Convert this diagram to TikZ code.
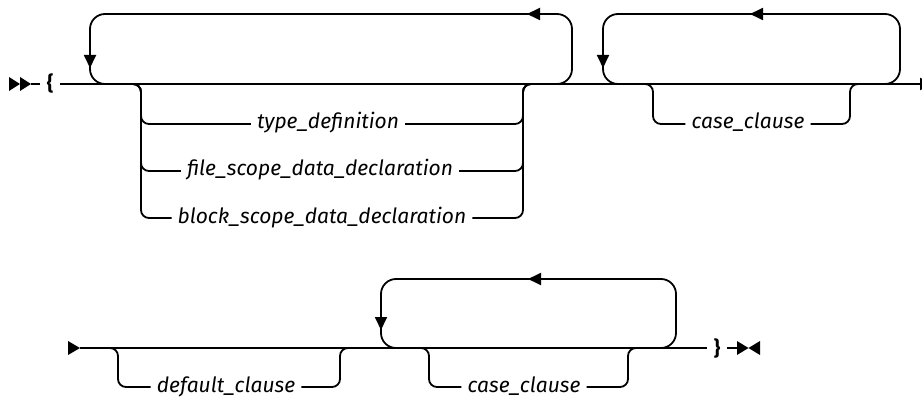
\documentclass[tikz,border=0pt]{standalone}
\usepackage{fontspec}
\setmainfont{Fira Sans}
\usetikzlibrary{positioning, arrows.meta, calc}
\tikzset{
  rail/.style={line width=1.8pt, rounded corners=8pt},
  loopback/.style={line width=1.8pt, rounded corners=15pt},
  syn/.style={font=\itshape\fontsize{21}{24}\selectfont, inner sep=6pt, text height=15pt, text depth=5pt},
  brace/.style={font=\bfseries\fontsize{20}{24}\selectfont, inner sep=7pt},
  tip/.style={line width=1.8pt, -{Triangle[length=13pt,width=12pt]}}
}
\begin{document}
\begin{tikzpicture}[x=1pt, y=-1pt]
  \useasboundingbox (0,0) rectangle (922,401);
  \clip (0,0) rectangle (922,401);
  % first row
  \fill (9,77) -- (20,84) -- (9,91) -- cycle (20,77) -- (31,84) -- (20,91) -- cycle;
  \coordinate (rowA) at (31,84);
  \coordinate (endA) at (933,84);
  \node (open) [brace] at (50,84) {\{};
  \draw [rail] (rowA) -- (open);
  \draw [rail, -{Triangle[length=13pt,width=12pt]}] (open) -- (endA);

  % repeat loop over the declarations
  \draw [loopback] (540,84) -- (572,84) -- (572,14) -- (90,14) -- (90,84) -- (120,84);
  \draw [tip] (545,14) -- (527,14);
  \draw [tip] (90,50) -- (90,68);

  \coordinate (inA) at (141,84);
  \coordinate (outA) at (523,84);
  \node (typedef) [syn] at (328,124) {type\_definition};
  \node (filedecl) [syn] at (320,171) {file\_scope\_data\_declaration};
  \node (blockdecl) [syn] at (322,218) {block\_scope\_data\_declaration};
  \foreach \n in {typedef, filedecl, blockdecl}{
    \draw [rail] ($(inA)+(-16,0)$) -- (inA) -- (inA |- \n) -- (\n.west);
    \draw [rail] (\n.east) -- (outA |- \n) -- (outA) -- ($(outA)+(16,0)$);
  }

  % case clauses, first row
  \draw [loopback] (880,84) -- (900,84) -- (900,14) -- (603,14) -- (603,84) -- (625,84);
  \draw [tip] (768,14) -- (750,14);
  \draw [tip] (603,50) -- (603,68);

  \coordinate (inB) at (653,84);
  \coordinate (outB) at (850,84);
  \node (case1) [syn] at (748,124) {case\_clause};
  \draw [rail] ($(inB)+(-16,0)$) -- (inB) -- (inB |- case1) -- (case1.west);
  \draw [rail] (case1.east) -- (outB |- case1) -- (outB) -- ($(outB)+(16,0)$);

  % second row
  \fill (68,341) -- (80,348) -- (68,355) -- cycle;
  \coordinate (rowB) at (80,348);
  \coordinate (stop) at (738,348);
  \node (close) [brace] at (717,348) {\}};
  \draw [rail] (rowB) -- (close);
  \draw [rail] (close) -- (stop);
  \fill (737,341) -- (748.5,348) -- (737,355) -- cycle (760,341) -- (748.5,348) -- (760,355) -- cycle;

  \coordinate (inC) at (118,348);
  \coordinate (outC) at (340,348);
  \node (default) [syn] at (226,387) {default\_clause};
  \draw [rail] ($(inC)+(-16,0)$) -- (inC) -- (inC |- default) -- (default.west);
  \draw [rail] (default.east) -- (outC |- default) -- (outC) -- ($(outC)+(16,0)$);

  \draw [loopback] (660,348) -- (676,348) -- (676,279) -- (381,279) -- (381,348) -- (400,348);
  \draw [tip] (546,279) -- (528,279);
  \draw [tip] (381,314) -- (381,330);

  \coordinate (inD) at (429,348);
  \coordinate (outD) at (628,348);
  \node (case2) [syn] at (524,387) {case\_clause};
  \draw [rail] ($(inD)+(-16,0)$) -- (inD) -- (inD |- case2) -- (case2.west);
  \draw [rail] (case2.east) -- (outD |- case2) -- (outD) -- ($(outD)+(16,0)$);
\end{tikzpicture}
\end{document}
